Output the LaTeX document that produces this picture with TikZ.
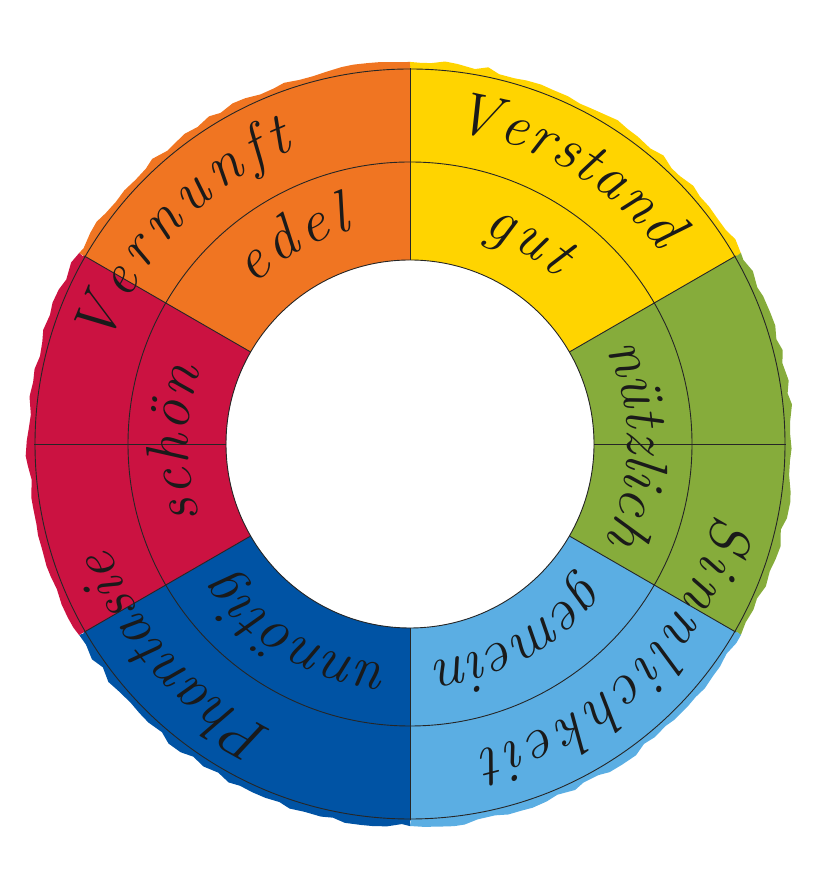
\documentclass[tikz,border=0pt]{standalone}
\usepackage{fontspec}
\usetikzlibrary{decorations.pathmorphing,decorations.text}
\definecolor{cOrange}{HTML}{F07522}
\definecolor{cYellow}{HTML}{FFD400}
\definecolor{cGreen}{HTML}{86AC3B}
\definecolor{cLBlue}{HTML}{5BAEE3}
\definecolor{cDBlue}{HTML}{0053A4}
\definecolor{cRed}{HTML}{CB1241}
\definecolor{cInk}{HTML}{1A1A1A}
\newcommand\handfont{\color{cInk}\itshape\fontsize{60}{60}\selectfont}
\newcommand\ringtext[4]{\path[decorate,decoration={text along path,text align=center,text={|\handfont|#4}}] (#1+#3:#2) arc[start angle=#1+#3,end angle=#1-#3,radius=#2];}
\tikzset{ringline/.style={draw=black!85,line width=0.9pt}}
\begin{document}
\begin{tikzpicture}[x=1pt,y=1pt]
\useasboundingbox (0,0) rectangle (816,896);
\pgfmathsetseed{11}
\begin{scope}[shift={(410,452)}]
% rough paint
\foreach \a/\b/\c in {90/150/cOrange,30/90/cYellow,-30/30/cGreen,-90/-30/cLBlue,-150/-90/cDBlue,150/210/cRed}{
  \fill[\c,decorate,decoration={random steps,segment length=14,amplitude=2.5}]
    (\a:382) arc[start angle=\a,end angle=\b,radius=382] -- (\b:186) arc[start angle=\b,end angle=\a,radius=186] -- cycle;
}
% clean paint
\foreach \a/\b/\c in {90/150/cOrange,30/90/cYellow,-30/30/cGreen,-90/-30/cLBlue,-150/-90/cDBlue,150/210/cRed}{
  \fill[\c] (\a:377) arc[start angle=\a,end angle=\b,radius=377] -- (\b:184) arc[start angle=\b,end angle=\a,radius=184] -- cycle;
}
% circles and dividers
\draw[ringline] (0,0) circle[radius=375];
\draw[ringline] (0,0) circle[radius=282];
\draw[ringline] (0,0) circle[radius=184];
\foreach \a in {90,30,-30,-90,-150,150,0,180}{
  \draw[ringline] (\a:184) -- (\a:376);
}
% outer ring words
\ringtext{60}{316}{55}{{V\kern2pt}{e\kern2pt}{r\kern2pt}{s\kern2pt}{t\kern2pt}{a\kern2pt}{n\kern2pt}d}
\ringtext{137}{316}{65}{{V\kern7pt}{e\kern7pt}{r\kern7pt}{n\kern7pt}{u\kern7pt}{n\kern7pt}{f\kern7pt}t}
\ringtext{-45}{314}{75}{{S\kern5pt}{i\kern5pt}{n\kern5pt}{n\kern5pt}{l\kern5pt}{i\kern5pt}{c\kern5pt}{h\kern5pt}{k\kern5pt}{e\kern5pt}{i\kern5pt}t}
\ringtext{-138}{318}{60}{Phantasie}
% inner ring words
\ringtext{120}{222}{45}{{e\kern5pt}{d\kern5pt}{e\kern5pt}l}
\ringtext{60}{222}{45}{{g\kern4pt}{u\kern4pt}t}
\ringtext{0}{218}{50}{nützlich}
\ringtext{-60}{218}{45}{gemein}
\ringtext{-120}{222}{45}{unnötig}
\ringtext{180}{222}{45}{{s\kern2pt}{c\kern2pt}{h\kern2pt}{ö\kern2pt}n}
\end{scope}
\end{tikzpicture}
\end{document}
